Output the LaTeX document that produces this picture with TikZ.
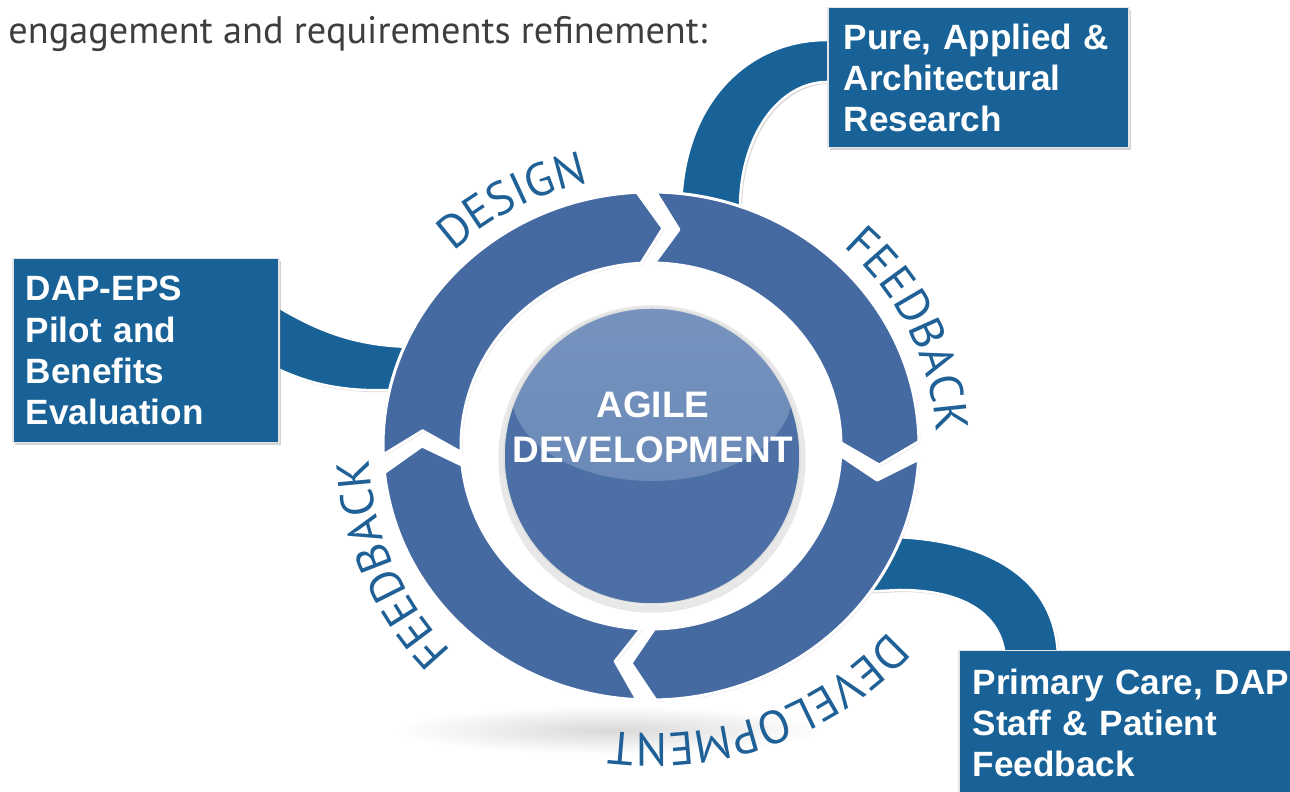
\documentclass[tikz,border=0pt]{standalone}
\usepackage{fontspec}
\setmainfont{Liberation Sans}
\newfontfamily\ptsans{PT Sans}
\usetikzlibrary{calc,shadows,decorations.text}

\definecolor{boxblue}{RGB}{24,98,152}
\definecolor{ringblue}{RGB}{69,106,162}
\definecolor{spherelow}{RGB}{76,112,165}
\definecolor{spheretop}{RGB}{118,147,190}
\definecolor{labelblue}{RGB}{31,96,150}
\definecolor{headgray}{RGB}{62,62,62}

\pgfdeclarelayer{back}
\pgfsetlayers{back,main}

\newcommand{\labelfont}{\ptsans\fontsize{26.5}{26.5}\selectfont}

% one arrow of the ring, from the chevron at #1 to the chevron at #2
\newcommand{\ringseg}[2]{%
  \pgfmathsetmacro{\segfrom}{#1+2}%
  \pgfmathsetmacro{\segto}{#2+6}%
  \pgfmathsetmacro{\segnotch}{#1-4}%
  \draw[segment] (\segfrom:268 and 254)
    arc[start angle=\segfrom, end angle=\segto, x radius=268, y radius=254]
    -- (#2:229 and 218) -- (\segto:190 and 183)
    arc[start angle=\segto, end angle=\segfrom, x radius=190, y radius=183]
    -- (\segnotch:229 and 218) -- cycle;}

\begin{document}
\begin{tikzpicture}[
                    x=0.2mm, y=0.2mm,
                    box/.style={fill=boxblue, draw=white!80!gray, line width=0.3mm,
                        text=white, align=left, anchor=north west, inner ysep=0pt,
                        font=\fontsize{20}{23.5}\selectfont\bfseries,
                        drop shadow={opacity=0.35, shadow xshift=0.5mm, shadow yshift=-0.5mm}},
                    ribbon/.style={fill=boxblue, draw=white, line width=0.5mm,
                        drop shadow={opacity=0.3, shadow xshift=0.4mm, shadow yshift=-0.4mm}},
                    segment/.style={fill=ringblue, draw=white, line width=0.6mm, line join=round,
                        drop shadow={opacity=0.25, shadow xshift=0.3mm, shadow yshift=-0.3mm}},
                    arclabel/.style={decorate, decoration={text along path, text align=center,
                        text color=labelblue, text={|\labelfont|#1}}},
                ]
                \useasboundingbox (0,0) rectangle (1290,792);
                \clip (0,0) rectangle (1290,792);

                \node[anchor=base west, inner sep=0pt, text=headgray,
                    font=\ptsans\fontsize{21.8}{26}\selectfont] (intro) at (8,748)
                    {engagement and requirements refinement:};

                % boxes
                \node[box, minimum width=60.2mm, minimum height=28mm, text width=53.8mm,
                    inner xsep=3.2mm] (research) at (827,785)
                    {Pure, Applied \&\\Architectural\\Research};
                \node[box, minimum width=53.2mm, minimum height=36.8mm, text width=48mm,
                    inner xsep=2.6mm] (pilot) at (12,534)
                    {DAP-EPS\\Pilot and\\Benefits\\Evaluation};
                \node[box, minimum height=28.8mm, text width=72mm,
                    inner xsep=2.8mm] (care) at (958,142)
                    {Primary Care, DAP\\Staff \& Patient\\Feedback};

                \coordinate (hub) at (651,346);

                % ribbons behind the ring
                \begin{pgfonlayer}{back}
                    \shade[inner color=gray!30, outer color=white] (610,62) ellipse (215 and 24);
                    \draw[ribbon] ($(research.north west)+(8,-33)$) -- ($(research.north west)+(0,-33)$)
                        .. controls (746,752) and (680,687) .. ($(hub)+(30,231)$)
                        -- ($(hub)+(89,231)$)
                        .. controls (738,657) and (780,710) .. ($(research.north west)+(0,-75)$)
                        -- ($(research.north west)+(8,-75)$) -- cycle;
                    \draw[ribbon] ($(pilot.north east)+(-8,-45)$)
                        .. controls (320,459) and (360,445) .. ($(hub)+(-233,99)$)
                        -- ($(hub)+(-233,58)$)
                        .. controls (350,397) and (310,407) .. ($(pilot.north east)+(-8,-108)$) -- cycle;
                    \draw[ribbon] ($(hub)+(209,-91)$)
                        .. controls (990,260) and (1058,212) .. ($(care.north west)+(100,-10)$)
                        -- ($(care.north west)+(47,-10)$)
                        .. controls (1003,180) and (960,202) .. (900,202)
                        -- ($(hub)+(209,-146)$) -- cycle;
                \end{pgfonlayer}

                % ring of four arrows
                \begin{scope}[shift={(hub)}]
                    \ringseg{180}{87}
                    \ringseg{87}{-5}
                    \ringseg{-5}{-95}
                    \ringseg{-95}{-180}
                    \path[arclabel=DESIGN] (150:285 and 270)
                        arc[start angle=150, end angle=87, x radius=285, y radius=270];
                    \path[arclabel=FEEDBACK] (60:285 and 270)
                        arc[start angle=60, end angle=-10, x radius=285, y radius=270];
                    \path[arclabel=DEVELOPMENT] (-30:310 and 288)
                        arc[start angle=-30, end angle=-107, x radius=310, y radius=288];
                    \path[arclabel=FEEDBACK] (-120:282 and 290)
                        arc[start angle=-120, end angle=-192, x radius=282, y radius=290];
                \end{scope}

                % centre sphere
                \draw[gray!18, line width=1.5mm] (652,333) circle (150);
                \fill[spherelow] (652,336) circle (148);
                \begin{scope}
                    \clip (652,336) circle (148);
                    \shade[top color=spheretop, bottom color=spheretop!75!spherelow] (652,397) ellipse (140 and 86);
                \end{scope}
                \draw[white!75!gray, line width=0.3mm] (652,336) circle (148);
                \node[text=white, align=center, font=\fontsize{21}{25.5}\selectfont\bfseries] (core) at (653,365)
                    {AGILE\\DEVELOPMENT};
                \end{tikzpicture}
\end{document}
